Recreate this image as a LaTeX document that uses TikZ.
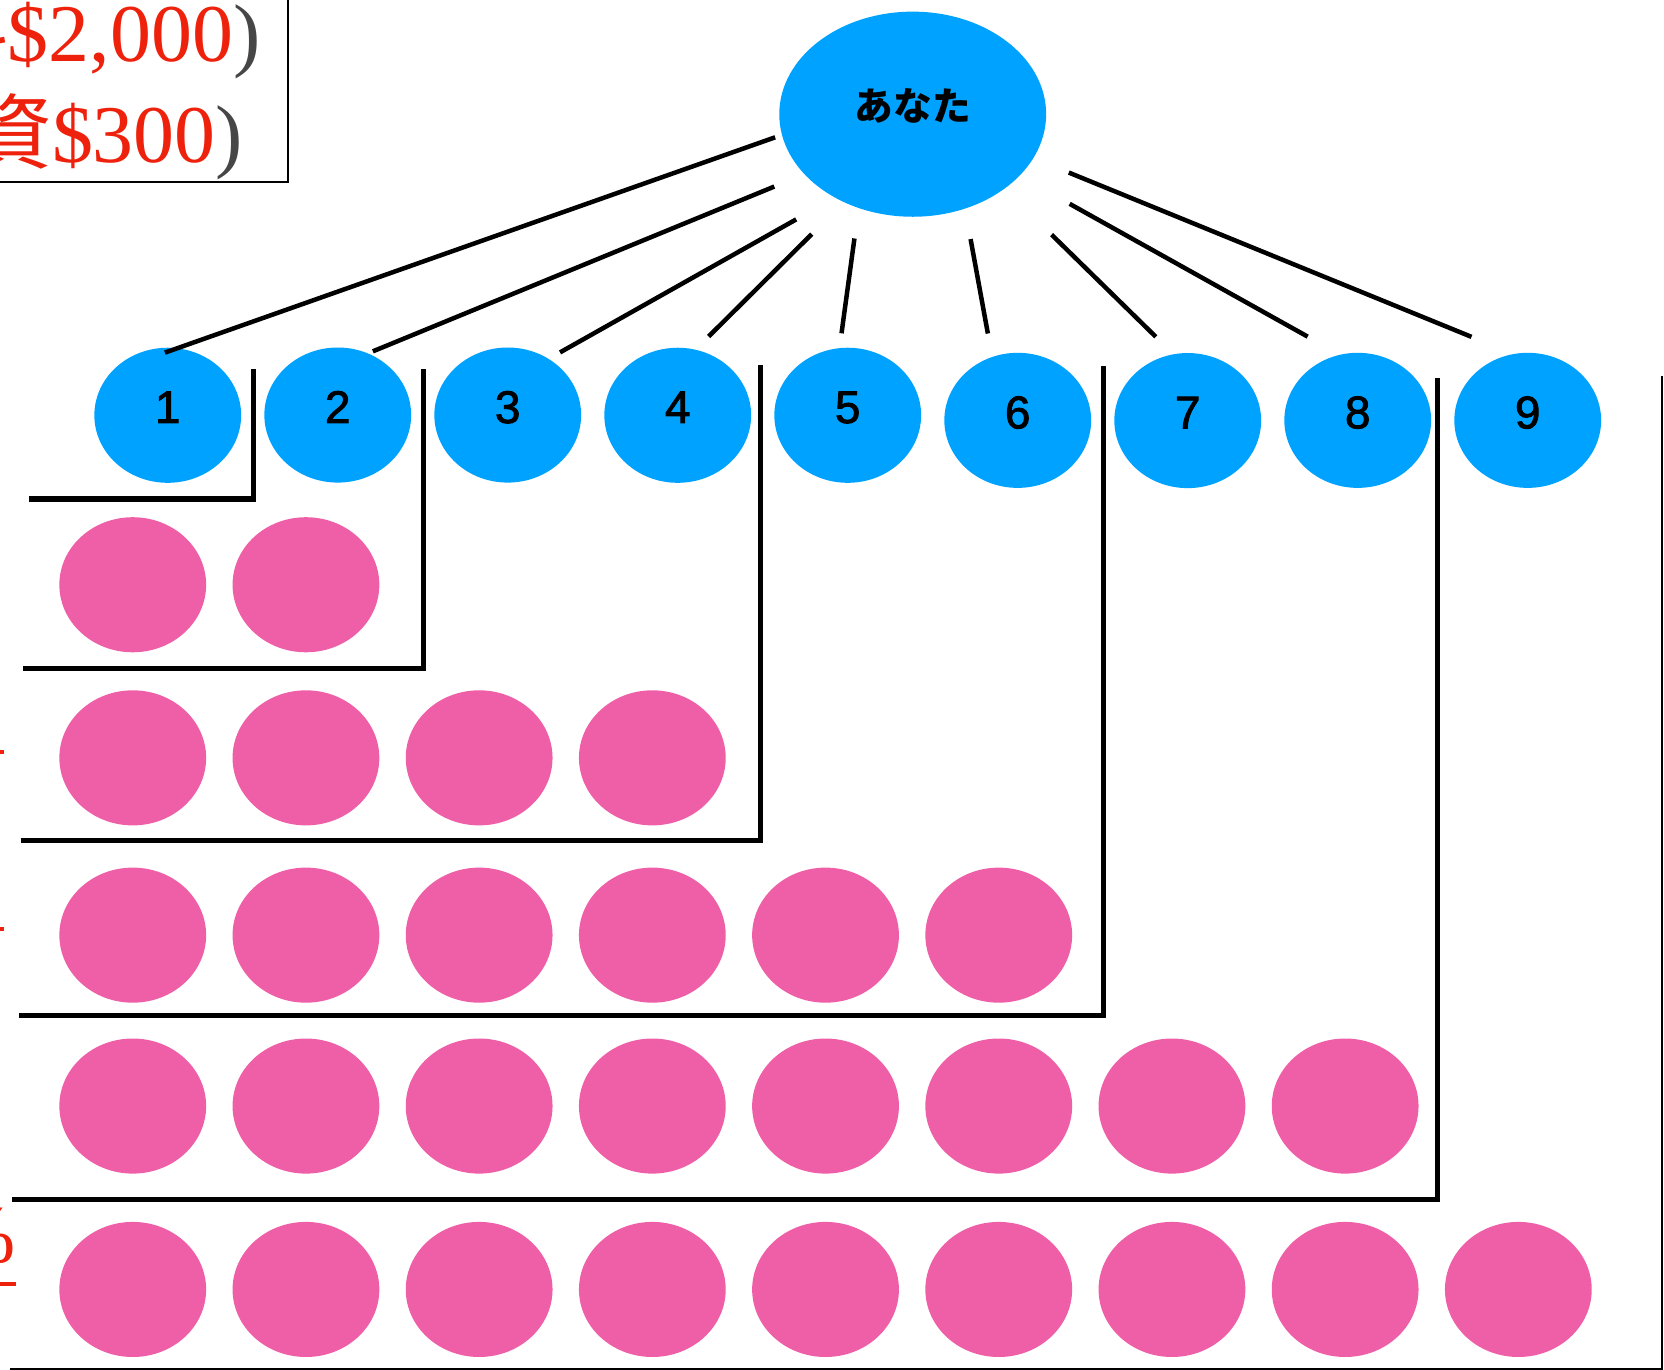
\documentclass[tikz,border=0pt]{standalone}
\usepackage{fontspec}
\usepackage{xcolor}
\usetikzlibrary{positioning,matrix,shapes.geometric}
\newfontfamily\jpfont{Noto Sans CJK JP}
\newfontfamily\numfont[FakeBold=2]{Liberation Sans}
\newfontfamily\moneyfont{Liberation Serif}
\definecolor{nodeblue}{RGB}{0,162,255}
\definecolor{nodepink}{RGB}{239,95,167}
\definecolor{moneyred}{RGB}{238,34,12}
\definecolor{parengray}{RGB}{70,70,70}

\begin{document}
\begin{tikzpicture}[
    x=0.01cm, y=-0.01cm,
    nosep/.style={inner sep=0, outer sep=0},
    ball/.style={ellipse, nosep, minimum width=1.467cm, minimum height=1.35cm},
    tree/.style={line width=0.045cm},
    frame/.style={line width=0.05cm},
    uline/.style={draw=moneyred, line width=0.035cm},
    money/.style={nosep, text=moneyred, font=\moneyfont\fontsize{23.3}{27}\selectfont},
    crowd/.style={
        matrix of nodes,
        nosep,
        anchor=north west,
        ampersand replacement=\&,
        nodes={ball}}]
\useasboundingbox (0,0) rectangle (1664,1370);
\clip (0,0) rectangle (1664,1370);

\draw[line width=0.022cm] (-30,-30) rectangle (288,181.7);
\node[money, anchor=base west] (sum) at (8,62) {\$2,000{\color{parengray})}};
\node[money, anchor=base east] at (sum.base west) {\jpfont 料};
\node[money, anchor=base west] (inv) at (52,163) {\$300{\color{parengray})}};
\node[money, anchor=base east] at (inv.base west) {\jpfont 投資};

\node[ellipse, nosep, minimum width=2.667cm, minimum height=2.05cm, fill=nodeblue,
      font=\jpfont\bfseries\fontsize{11}{11}\selectfont, text depth=0.2cm] (you) at (912.7,114.2) {あなた};

\matrix (lvl) [crowd, column sep=0.232cm,
    nodes={fill=nodeblue, font=\numfont\fontsize{13}{13}\selectfont, text depth=0.16cm}] at (94.35,347.5) {
 1 \& 2 \& 3 \& 4 \& 5 \& |[yshift=-0.053cm]| 6 \& |[yshift=-0.053cm]| 7 \& |[yshift=-0.053cm]| 8 \& |[yshift=-0.053cm]| 9 \\
};

\matrix (grp) [crowd, column sep=0.264cm, nodes={fill=nodepink}] at (59.35,517.2) {
 {} \& {} \\[0.38cm]
 {} \& {} \& {} \& {} \\[0.422cm]
 {} \& {} \& {} \& {} \& {} \& {} \\[0.358cm]
 {} \& {} \& {} \& {} \& {} \& {} \& {} \& {} \\[0.483cm]
 {} \& {} \& {} \& {} \& {} \& {} \& {} \& {} \& {} \\
};

\draw[tree, shorten <=0.073cm, shorten >=-0.13cm] (you.189.8) -- (lvl-1-1.82.3);
\draw[tree, shorten <=0.326cm, shorten >=0.055cm] (you.209.9) -- (lvl-1-2.64.1);
\draw[tree, shorten <=0.445cm, shorten >=0.132cm] (you.227.5) -- (lvl-1-3.54.3);
\draw[tree, shorten <=0.455cm, shorten >=0.187cm] (you.232.7) -- (lvl-1-4.75.1);
\draw[tree, shorten <=0.308cm, shorten >=0.15cm] (you.240.8) -- (lvl-1-5.97.3);
\draw[tree, shorten <=0.31cm, shorten >=0.239cm] (you.299.5) -- (lvl-1-6.112.1);
\draw[tree, shorten <=0.658cm, shorten >=0.25cm] (you.321.2) -- (lvl-1-7.102.9);
\draw[tree, shorten <=0.575cm, shorten >=0.372cm] (you.330.2) -- (lvl-1-8.105.8);
\draw[tree, shorten <=0.383cm, shorten >=0.455cm] (you.340.9) -- (lvl-1-9.102.0);

\draw[frame] (29.3,499) -| (253.6,369);
\draw[frame] (22.7,668.3) -| (423.4,369);
\draw[frame] (20.7,840) -| (760.9,365);
\draw[frame] (19,1015.6) -| (1103.7,366);
\draw[frame] (12.3,1199.5) -| (1437.6,378);
\draw[line width=0.025cm] (10,1369) -| (1662,376);

\node[money, anchor=base east] (pc3) at (3,735) {\%};
\draw[uline] ([yshift=-0.17cm]pc3.base west) -- ([xshift=0.01cm, yshift=-0.17cm]pc3.base east);
\node[money, anchor=base east] (pc4) at (3,912) {\%};
\draw[uline] ([yshift=-0.17cm]pc4.base west) -- ([xshift=0.01cm, yshift=-0.17cm]pc4.base east);
\node[money, anchor=base east] (pc6) at (16,1262) {\%};
\draw[uline] ([yshift=-0.22cm]pc6.base west) -- ([yshift=-0.22cm]pc6.base east);
\end{tikzpicture}
\end{document}
